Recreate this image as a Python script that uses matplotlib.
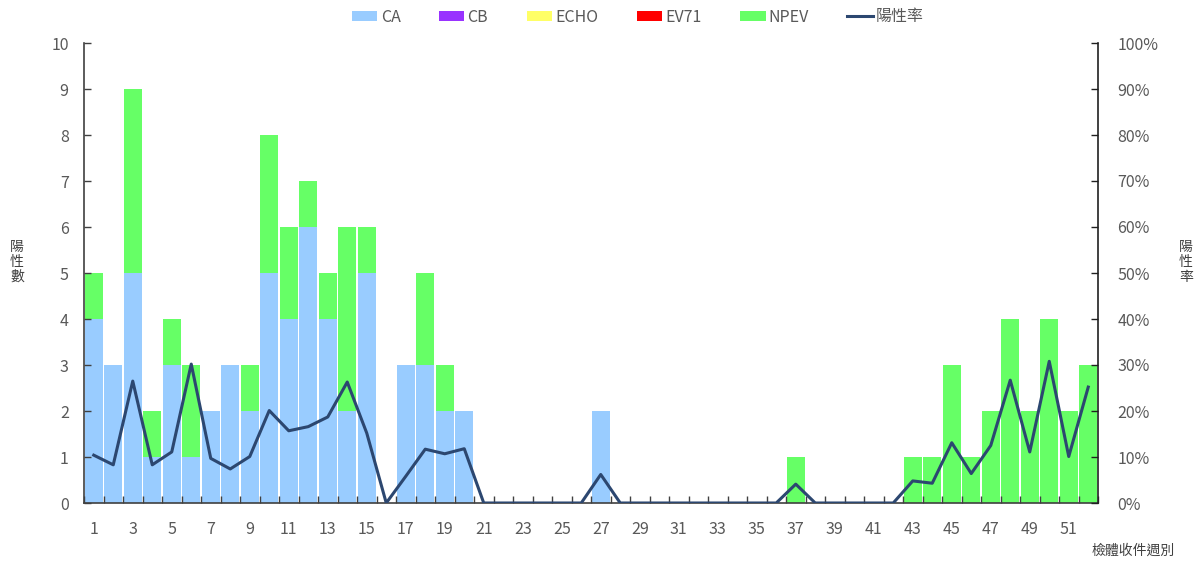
import matplotlib
matplotlib.use("Agg")
import matplotlib.pyplot as plt
import numpy as np
from matplotlib.ticker import PercentFormatter, FixedLocator

plt.rcParams['font.family'] = ['Noto Sans CJK TC', 'DejaVu Sans']

weeks = list(range(1, 53))
ca = [4, 3, 5, 1, 3, 1, 2, 3, 2, 5, 4, 6, 4, 2, 5, 0, 3, 3, 2, 2,
      0, 0, 0, 0, 0, 0, 2, 0, 0, 0, 0, 0, 0, 0, 0, 0, 0, 0, 0, 0,
      0, 0, 0, 0, 0, 0, 0, 0, 0, 0, 0, 0]
cb = [0] * 52
echo = [0] * 52
ev71 = [0] * 52
npev = [1, 0, 4, 1, 1, 2, 0, 0, 1, 3, 2, 1, 1, 4, 1, 0, 0, 2, 1, 0,
        0, 0, 0, 0, 0, 0, 0, 0, 0, 0, 0, 0, 0, 0, 0, 0, 1, 0, 0, 0,
        0, 0, 1, 1, 3, 1, 2, 4, 2, 4, 2, 3]
rate = [10.4, 8.3, 26.5, 8.3, 11.1, 30.2, 9.7, 7.4, 10.1, 20.1,
        15.7, 16.6, 18.7, 26.3, 15.2, 0, 5.8, 11.7, 10.7, 11.8,
        0, 0, 0, 0, 0, 0, 6.2, 0, 0, 0,
        0, 0, 0, 0, 0, 0, 4.1, 0, 0, 0,
        0, 0, 4.8, 4.3, 13.1, 6.4, 12.5, 26.7, 11.1, 30.8,
        10.1, 25.2]

series_names = ['CA', 'CB', 'ECHO', 'EV71', 'NPEV']
series_vals = [ca, cb, echo, ev71, npev]
colors = ['#99CCFF', '#9933FF', '#FFFF66', '#FF0000', '#66FF66']
line_color = '#2C4770'
text_color = '#595959'

fig = plt.figure(figsize=(12.01, 5.62), dpi=100)
ax = fig.add_axes([84 / 1201, 1 - 503 / 562, (1098 - 84) / 1201, (503 - 43) / 562])
x = np.array(weeks)
bottom = np.zeros(52)
handles = []
for name, vals, c in zip(series_names, series_vals, colors):
    v = np.array(vals, dtype=float)
    h = ax.bar(x, v, width=0.9, bottom=bottom, color=c, label=name, linewidth=0)
    handles.append(h)
    bottom += v

ax.set_xlim(0.5, 52.5)
ax.set_ylim(0, 10)
ax.set_yticks(range(0, 11))
ax.xaxis.set_major_locator(FixedLocator(list(range(1, 53, 2))))
ax.xaxis.set_minor_locator(FixedLocator([k + 0.5 for k in range(0, 53)]))
ax.tick_params(axis='x', which='major', length=0, pad=13, labelsize=11.5, labelcolor=text_color)
ax.tick_params(axis='x', which='minor', length=5, direction='in', color='#404040', width=1)
ax.tick_params(axis='y', direction='in', length=5, width=1, color='#404040', labelsize=11.5,
               labelcolor=text_color, pad=11)
ax.spines['top'].set_visible(False)
ax.spines['right'].set_visible(False)
ax.spines['left'].set_color('#404040')
ax.spines['bottom'].set_color('#404040')
ax.spines['left'].set_linewidth(1.2)
ax.spines['bottom'].set_linewidth(1.2)

ax2 = ax.twinx()
ln, = ax2.plot(x, np.array(rate) / 100.0, color=line_color, linewidth=2.2, label='陽性率')
ax2.set_ylim(0, 1)
ax2.set_yticks(np.linspace(0, 1, 11))
ax2.yaxis.set_major_formatter(PercentFormatter(1.0, decimals=0))
ax2.tick_params(axis='y', direction='in', length=5, width=1, color='#202020', labelsize=11.5,
                labelcolor=text_color, pad=14)
for s in ['top', 'left', 'bottom']:
    ax2.spines[s].set_visible(False)
ax2.spines['right'].set_color('#202020')
ax2.spines['right'].set_linewidth(1.2)

fig.text(17 / 1201, 1 - 262 / 562, '陽\n性\n數', ha='center', va='center', fontsize=10,
         color='#404040', linespacing=1.1)
fig.text(1186 / 1201, 1 - 262 / 562, '陽\n性\n率', ha='center', va='center', fontsize=10,
         color='#404040', linespacing=1.1)
fig.text(1133 / 1201, 1 - 551 / 562, '檢體收件週別', ha='center', va='center', fontsize=10,
         color='#404040')

leg = fig.legend(handles + [ln], series_names + ['陽性率'], loc='center',
                 bbox_to_anchor=(638 / 1201, 1 - 17 / 562), ncol=6, frameon=False,
                 fontsize=11.5, handlelength=1.6, handleheight=0.55, handletextpad=0.2,
                 columnspacing=2.4, labelcolor=text_color)

fig.savefig('out.png', dpi=100)
